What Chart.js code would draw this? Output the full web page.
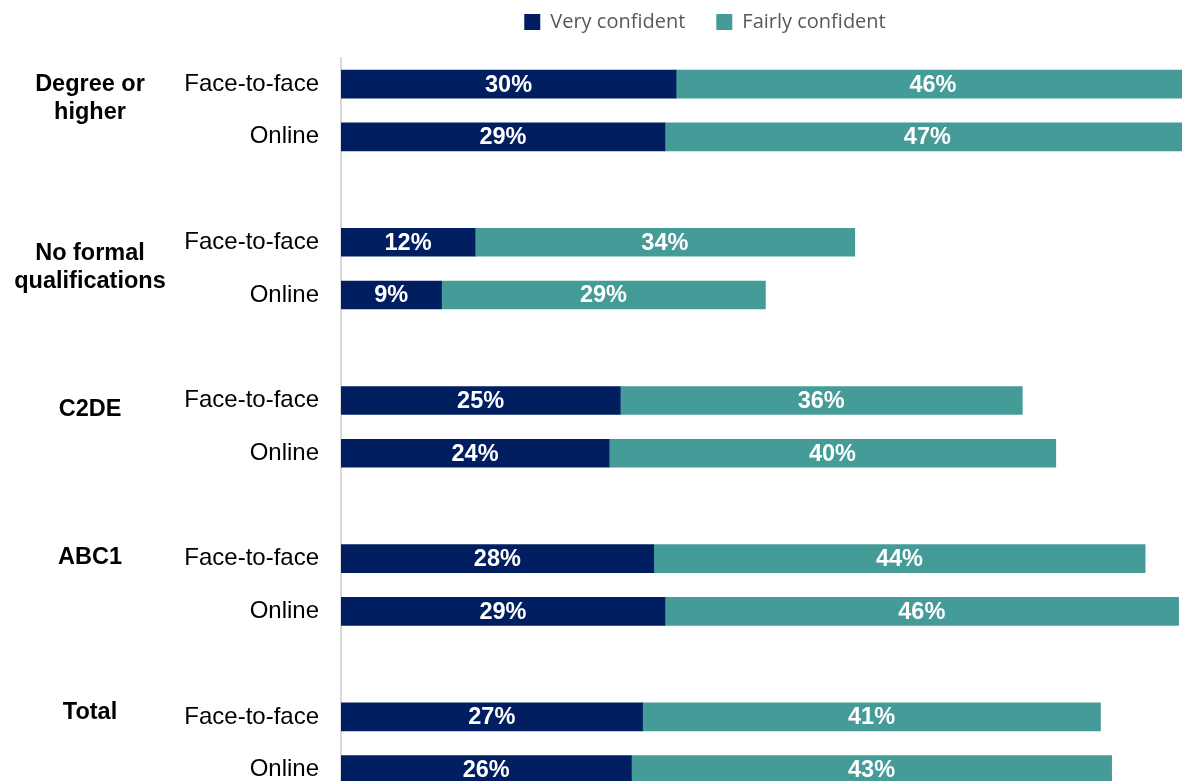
<!DOCTYPE html>
<html>
<head>
<meta charset="utf-8">
<title>Confidence by qualification and social grade</title>
<script src="https://cdn.jsdelivr.net/npm/chart.js@4.4.1/dist/chart.umd.min.js"></script>
<style>
  html, body { margin: 0; padding: 0; background: #fff; overflow: hidden; }
  canvas { display: block; }
</style>
</head>
<body>
<canvas id="myChart" width="1182" height="796"></canvas>
<script>
// groups and the two survey modes within each group
const groups = [['Degree or', 'higher'], ['No formal', 'qualifications'], ['C2DE'], ['ABC1'], ['Total']];
const modes = ['Face-to-face', 'Online'];

// % per bar, in order: group 1 F2F, group 1 Online, group 2 F2F ...
const veryConfident   = [30, 29, 12, 9, 25, 24, 28, 29, 27, 26];
const fairlyConfident = [46, 47, 34, 29, 36, 40, 44, 46, 41, 43];

const seriesNames = ['Very confident', 'Fairly confident'];
const seriesColors = ['#001e60', '#459b98'];

// build the slot list: two bars per group, then an empty spacer slot
let slotLabels = [];
let slotVery = [];
let slotFairly = [];
let groupStart = [];
groups.forEach((g, gi) => {
  groupStart.push(slotLabels.length);
  modes.forEach((m, mi) => {
    slotLabels.push(m);
    slotVery.push(veryConfident[gi * 2 + mi]);
    slotFairly.push(fairlyConfident[gi * 2 + mi]);
  });
  if (gi < groups.length - 1) {
    slotLabels.push('');
    slotVery.push(null);
    slotFairly.push(null);
  }
});

// white % labels in the middle of each segment
const barLabels = {
  id: 'barLabels',
  afterDatasetsDraw(chart) {
    const ctx = chart.ctx;
    ctx.save();
    ctx.font = 'bold 23.5px "Liberation Sans", Arial, sans-serif';
    ctx.fillStyle = '#ffffff';
    ctx.textAlign = 'center';
    ctx.textBaseline = 'middle';
    chart.data.datasets.forEach((ds, i) => {
      chart.getDatasetMeta(i).data.forEach((bar, j) => {
        if (ds.data[j] == null) return;
        ctx.fillText(ds.data[j] + '%', (bar.x + bar.base) / 2, bar.y + 1);
      });
    });
    ctx.restore();
  }
};

// bold group names on the far left
const groupLabels = {
  id: 'groupLabels',
  afterDraw(chart, args, opts) {
    const ctx = chart.ctx;
    const y = chart.scales.y;
    ctx.save();
    ctx.font = 'bold 23.5px "Liberation Sans", Arial, sans-serif';
    ctx.fillStyle = '#000000';
    ctx.textAlign = 'center';
    ctx.textBaseline = 'middle';
    groups.forEach((lines, gi) => {
      const mid = y.getPixelForValue(groupStart[gi]) + opts.shift[gi];
      const top = mid - (lines.length - 1) * opts.lineHeight / 2;
      lines.forEach((t, k) => ctx.fillText(t, opts.x, top + k * opts.lineHeight));
    });
    ctx.restore();
  }
};

new Chart(document.getElementById('myChart'), {
  type: 'bar',
  data: {
    labels: slotLabels,
    datasets: [
      { label: seriesNames[0], data: slotVery, backgroundColor: seriesColors[0], barThickness: 28 },
      { label: seriesNames[1], data: slotFairly, backgroundColor: seriesColors[1], barThickness: 28 }
    ]
  },
  options: {
    indexAxis: 'y',
    responsive: false,
    animation: false,
    // legend box is wider than the canvas so it sits left of centre
    layout: { padding: { left: 0, top: -19, right: -228, bottom: 0 } },
    scales: {
      x: {
        stacked: true,
        position: 'top',
        min: 0,
        max: 75.3,
        grid: { display: false },
        border: { display: false },
        ticks: { display: false },
        afterFit(s) { s.height = 15.7; }
      },
      y: {
        stacked: true,
        grid: { display: false, drawTicks: false },
        border: { display: true, color: '#d9d9d9', width: 2 },
        ticks: {
          padding: 22,
          color: '#000000',
          font: { family: '"Liberation Sans", Arial, sans-serif', size: 24 }
        },
        afterFit(s) {
          s.width = 341;
          s.paddingTop = 0;
          s.paddingBottom = 0;
        }
      }
    },
    plugins: {
      legend: {
        position: 'top',
        labels: {
          boxWidth: 16,
          boxHeight: 16,
          padding: 31,
          color: '#595959',
          font: { family: '"Open Sans", sans-serif', size: 20 }
        }
      },
      tooltip: { enabled: false },
      groupLabels: { x: 90, lineHeight: 28, shift: [14, 25, 9, -1, -4] }
    }
  },
  plugins: [barLabels, groupLabels]
});
</script>
</body>
</html>
